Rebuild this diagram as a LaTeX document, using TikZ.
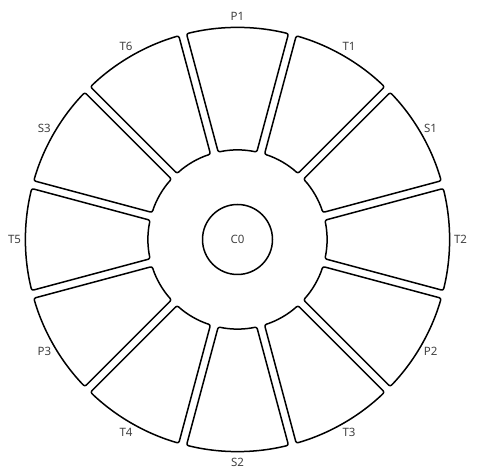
\documentclass[tikz,border=0pt]{standalone}
\usepackage{fontspec}
\setmainfont{Noto Sans}
\begin{document}
\begin{tikzpicture}[x=1pt,y=1pt,
  seg/.style={draw=black,line width=1.5pt,line join=round,rounded corners=2pt},
  lab/.style={font=\fontsize{11.5}{13}\selectfont,text=black!75,inner sep=0pt},
  core/.style={circle,draw=black,line width=1.5pt,minimum size=70pt,inner sep=0pt,font=\fontsize{11.5}{13}\selectfont,text=black!75}]
\useasboundingbox (0,0) rectangle (480,476);
\coordinate (ctr) at (237.5,236.5);
\def\ro{212}
\def\ri{89.5}
\def\d{4}
\def\rl{223}
\pgfmathsetmacro\ao{asin(\d/\ro)}
\pgfmathsetmacro\ai{asin(\d/\ri)}
\begin{scope}[shift={(ctr)}]
\foreach \a/\lab in {90/P1,60/T1,30/S1,0/T2,-30/P2,-60/T3,-90/S2,-120/T4,-150/P3,180/T5,150/S3,120/T6}{
  \pgfmathsetmacro\sa{\a+15-\ao}
  \pgfmathsetmacro\ea{\a-15+\ao}
  \pgfmathsetmacro\sb{\a-15+\ai}
  \pgfmathsetmacro\eb{\a+15-\ai}
  \draw[seg] (\sa:\ro) arc[start angle=\sa,end angle=\ea,radius=\ro] -- (\sb:\ri) arc[start angle=\sb,end angle=\eb,radius=\ri] -- cycle;
  \node[lab] (l\lab) at (\a:\rl) {\lab};
}
\end{scope}
\node[core] (c0) at (ctr) {C0};
\end{tikzpicture}
\end{document}
